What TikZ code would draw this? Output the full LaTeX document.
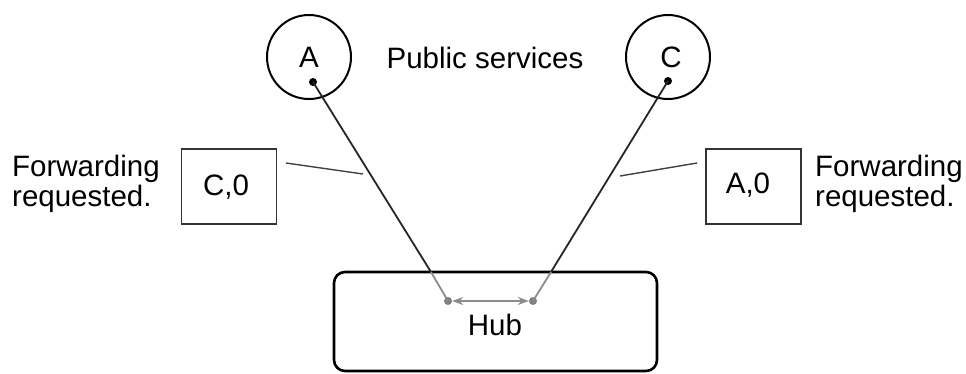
\documentclass[tikz,border=0pt]{standalone}
\usepackage{fontspec}
\setmainfont{Liberation Sans}
\usetikzlibrary{arrows.meta}
\tikzset{
  lbl/.style={inner sep=0pt, font=\fontsize{29.5}{30}\selectfont},
  svc/.style={circle, draw=black, line width=2pt, minimum size=84pt, inner sep=0pt},
  tbl/.style={draw=black!80, line width=1.4pt, minimum width=95pt, minimum height=75pt, inner sep=0pt},
  hubbox/.style={draw=black, line width=2.6pt, rounded corners=11pt, minimum width=323pt, minimum height=99pt, inner sep=0pt},
  link/.style={draw=black!85, line width=1.8pt},
  inlink/.style={draw=black!45, line width=1.8pt},
  leader/.style={draw=black!75, line width=1.4pt},
  topdot/.style={circle, fill=black, inner sep=0pt, minimum size=8pt},
  hubdot/.style={circle, fill=black!50, inner sep=0pt, minimum size=8pt},
}
\begin{document}
\begin{tikzpicture}[x=1pt, y=-1pt]
\useasboundingbox[fill=white] (0,0) rectangle (966,373);
% public services
\node[svc] (A) at (309,57) {};
\node[svc] (C) at (668,57) {};
\node[lbl, anchor=base] (Alab) at (309,67) {A};
\node[lbl, anchor=base] (Clab) at (671,67) {C};
\node[lbl, anchor=base] (pub) at (485,68) {Public services};
% hub
\node[hubbox] (hub) at (495.5,321.5) {};
\node[lbl, anchor=base] (hublab) at (495,335) {Hub};
% dots
\node[topdot] (da) at (313,82) {};
\node[topdot] (dc) at (668,81) {};
\node[hubdot] (ha) at (448,301) {};
\node[hubdot] (hc) at (533,301) {};
% links
\coordinate (xa) at (431,272);
\coordinate (xc) at (551,272);
\draw[link] (da.center) -- (xa);
\draw[inlink] (xa) -- (ha.center);
\draw[link] (dc.center) -- (xc);
\draw[inlink] (xc) -- (hc.center);
\draw[draw=black!45, line width=1.4pt, {Stealth[length=11pt,width=8pt]}-{Stealth[length=11pt,width=8pt]}] (ha) -- (hc);
% forwarding tables
\node[tbl] (tl) at (229,186.5) {};
\node[tbl] (tr) at (753.5,186.5) {};
\node[lbl, anchor=base] (tllab) at (226,195) {C,0};
\node[lbl, anchor=base] (trlab) at (748,193) {A,0};
\coordinate (l1) at (286,163);
\coordinate (l2) at (363,174);
\coordinate (r1) at (620,176);
\coordinate (r2) at (697,163);
\draw[leader] (l1) -- (l2);
\draw[leader] (r1) -- (r2);
% side labels
\node[lbl, anchor=north west, align=left] (fl) at (12,155) {Forwarding\\requested.};
\node[lbl, anchor=north west, align=left] (fr) at (815,155) {Forwarding\\requested.};
\end{tikzpicture}
\end{document}
